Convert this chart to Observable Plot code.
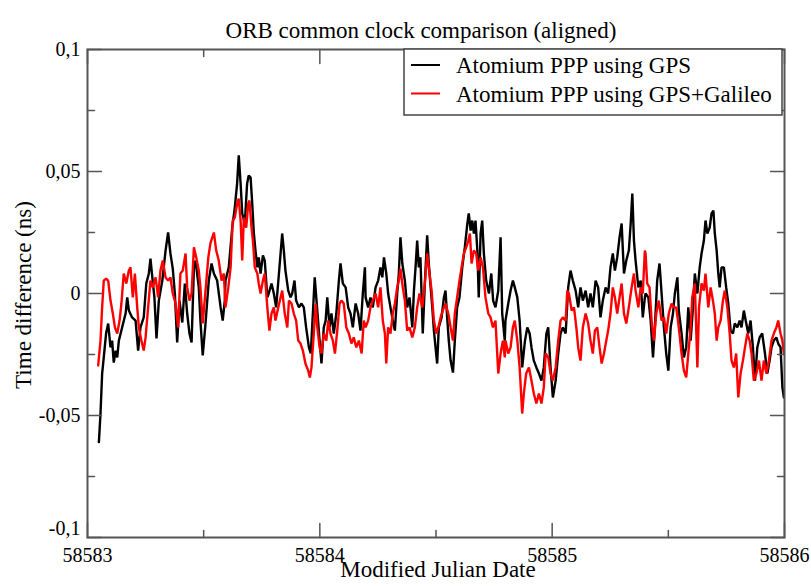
<!DOCTYPE html>
<html>
<head>
<meta charset="utf-8">
<script src="https://cdn.jsdelivr.net/npm/d3@7"></script>
<script src="https://cdn.jsdelivr.net/npm/@observablehq/plot@0.6"></script>
<style>
  html, body { margin: 0; padding: 0; background: white; }
</style>
</head>
<body>
<div id="chart"></div>
<script>
// ---- data (time as day offset from mjd0, values in ns) ----
const mjd0 = 58583;
const xTicks = [58583, 58584, 58585, 58586];
const xMinor = [58583.5, 58584.5, 58585.5];
const yTicks = [-0.1, -0.05, 0, 0.05, 0.1];
const yMinor = [-0.075, -0.025, 0.025, 0.075];
const seriesNames = ["Atomium PPP using GPS", "Atomium PPP using GPS+Galileo"];
const titleText = "ORB common clock comparison (aligned)";
const xLabel = "Modified Julian Date";
const yLabel = "Time difference (ns)";

const gps = [[0.049,-0.0609],[0.056,-0.0492],[0.063,-0.0328],[0.070,-0.0262],[0.080,-0.0164],[0.089,-0.0123],[0.099,-0.0221],[0.106,-0.0193],[0.113,-0.0283],[0.121,-0.0234],[0.128,-0.0262],[0.135,-0.0193],[0.149,-0.0139],[0.164,-0.0082],[0.171,-0.0016],[0.178,-0.0070],[0.192,-0.0098],[0.207,-0.0111],[0.218,-0.0234],[0.228,-0.0139],[0.242,-0.0098],[0.253,0.0041],[0.264,0.0082],[0.271,0.0143],[0.279,0.0066],[0.288,-0.0016],[0.297,-0.0184],[0.307,-0.0029],[0.322,0.0053],[0.336,0.0176],[0.347,0.0250],[0.357,0.0164],[0.367,0.0102],[0.376,0],[0.386,-0.0201],[0.396,-0.0029],[0.408,-0.0119],[0.419,0.0041],[0.429,-0.0082],[0.439,-0.0164],[0.448,-0.0201],[0.458,0.0107],[0.465,0.0135],[0.479,0.0025],[0.486,-0.0111],[0.496,-0.0254],[0.508,-0.0123],[0.522,0.0053],[0.534,0.0123],[0.544,0.0082],[0.558,0.0053],[0.573,-0.0057],[0.582,-0.0111],[0.591,-0.0029],[0.594,0.0053],[0.608,0.0107],[0.623,0.0270],[0.634,0.0352],[0.644,0.0451],[0.651,0.0566],[0.659,0.0451],[0.666,0.0328],[0.677,0.0287],[0.687,0.0451],[0.694,0.0484],[0.702,0.0475],[0.709,0.0369],[0.716,0.0246],[0.723,0.0176],[0.731,0.0107],[0.737,0.0148],[0.745,0.0082],[0.755,0.0156],[0.763,0.0135],[0.774,-0.0016],[0.780,0],[0.792,0.0041],[0.802,0],[0.812,-0.0057],[0.824,0.0082],[0.831,0.0164],[0.838,0.0246],[0.845,0.0176],[0.852,0.0094],[0.864,0.0012],[0.874,-0.0016],[0.881,0],[0.891,0.0053],[0.898,-0.0029],[0.910,-0.0057],[0.921,-0.0041],[0.931,-0.0057],[0.941,-0.0139],[0.953,-0.0221],[0.961,-0.0246],[0.970,-0.0082],[0.978,0.0066],[0.989,-0.0070],[0.999,-0.0193],[1.007,-0.0287],[1.017,-0.0139],[1.025,-0.0111],[1.032,-0.0016],[1.042,-0.0139],[1.050,-0.0082],[1.060,-0.0164],[1.071,-0.0082],[1.082,0.0053],[1.089,0.0123],[1.099,0.0041],[1.111,0.0025],[1.122,-0.0057],[1.132,-0.0082],[1.142,-0.0139],[1.154,-0.0041],[1.165,-0.0082],[1.175,-0.0152],[1.185,0],[1.194,0.0107],[1.197,-0.0016],[1.208,-0.0057],[1.218,-0.0016],[1.228,-0.0057],[1.240,0.0025],[1.251,0.0053],[1.261,0.0107],[1.269,0.0066],[1.276,0.0148],[1.286,0.0082],[1.294,0],[1.304,-0.0057],[1.314,-0.0111],[1.323,-0.0152],[1.333,0],[1.340,0.0082],[1.347,0.0230],[1.355,0.0123],[1.366,0.0053],[1.376,-0.0057],[1.386,-0.0016],[1.398,-0.0139],[1.405,0.0012],[1.412,0.0107],[1.419,0.0217],[1.426,0.0107],[1.433,0.0148],[1.443,-0.0164],[1.452,0.0041],[1.462,0.0238],[1.469,0.0123],[1.477,0.0025],[1.484,-0.0057],[1.491,-0.0152],[1.498,-0.0221],[1.505,-0.0287],[1.512,-0.0139],[1.524,-0.0098],[1.534,-0.0016],[1.541,0.0012],[1.548,-0.0098],[1.555,-0.0193],[1.563,-0.0275],[1.573,-0.0324],[1.581,-0.0193],[1.591,-0.0057],[1.601,-0.0016],[1.613,0.0107],[1.624,0.0189],[1.635,0.0287],[1.641,0.0328],[1.649,0.0258],[1.656,0.0299],[1.663,0.0246],[1.670,0.0299],[1.678,0.0176],[1.684,-0.0016],[1.692,0.0246],[1.699,0.0299],[1.706,0.0164],[1.716,0.0053],[1.728,0],[1.738,0.0082],[1.746,-0.0029],[1.756,-0.0057],[1.768,0.0012],[1.778,0.0230],[1.785,-0.0082],[1.796,-0.0193],[1.799,-0.0111],[1.811,-0.0041],[1.821,0.0012],[1.831,0.0053],[1.839,0.0025],[1.850,-0.0016],[1.860,-0.0111],[1.871,-0.0303],[1.883,-0.0193],[1.893,-0.0139],[1.903,-0.0164],[1.911,-0.0221],[1.921,-0.0275],[1.932,-0.0303],[1.943,-0.0328],[1.954,-0.0357],[1.964,-0.0303],[1.975,-0.0164],[1.983,-0.0139],[1.993,-0.0303],[2.003,-0.0426],[2.015,-0.0357],[2.026,-0.0246],[2.036,-0.0164],[2.046,-0.0139],[2.058,-0.0164],[2.069,0.0025],[2.079,0.0094],[2.089,0.0053],[2.101,0.0012],[2.112,-0.0057],[2.122,0.0025],[2.132,-0.0029],[2.144,0.0012],[2.155,-0.0057],[2.165,0],[2.175,-0.0057],[2.187,0.0053],[2.198,0.0025],[2.208,-0.0098],[2.218,-0.0029],[2.230,0.0025],[2.241,0],[2.251,0.0107],[2.261,0.0164],[2.270,0.0094],[2.280,0.0148],[2.290,0.0230],[2.299,0.0287],[2.309,0.0082],[2.319,0.0135],[2.330,0.0176],[2.338,0.0287],[2.345,0.0410],[2.352,0.0217],[2.359,0.0135],[2.371,0.0025],[2.381,0.0053],[2.390,-0.0098],[2.399,-0.0016],[2.402,0],[2.414,-0.0016],[2.424,-0.0111],[2.434,-0.0262],[2.442,-0.0139],[2.452,0.0053],[2.462,0.0123],[2.471,0],[2.481,-0.0139],[2.491,-0.0246],[2.500,-0.0316],[2.510,-0.0139],[2.520,-0.0082],[2.528,0],[2.539,0.0066],[2.545,-0.0070],[2.557,-0.0164],[2.567,-0.0262],[2.577,-0.0221],[2.586,-0.0057],[2.596,-0.0193],[2.606,-0.0057],[2.614,0.0082],[2.625,0],[2.635,0.0107],[2.643,0.0164],[2.653,0.0217],[2.660,0.0299],[2.668,0.0246],[2.678,0.0270],[2.686,0.0328],[2.694,0.0340],[2.700,0.0246],[2.708,0.0176],[2.715,0.0082],[2.721,0.0025],[2.729,0.0107],[2.739,0.0107],[2.749,0.0025],[2.758,-0.0041],[2.768,-0.0152],[2.778,-0.0164],[2.786,-0.0123],[2.797,-0.0139],[2.807,-0.0111],[2.815,-0.0139],[2.825,-0.0070],[2.833,-0.0111],[2.844,-0.0164],[2.854,-0.0111],[2.864,-0.0221],[2.873,-0.0357],[2.883,-0.0221],[2.893,-0.0180],[2.904,-0.0164],[2.916,-0.0246],[2.926,-0.0328],[2.936,-0.0275],[2.944,-0.0221],[2.954,-0.0193],[2.965,-0.0180],[2.973,-0.0205],[2.983,-0.0221],[2.991,-0.0385],[2.997,-0.0426]];

const gpsGalileo = [[0.046,-0.0295],[0.056,-0.0193],[0.063,-0.0057],[0.070,0.0053],[0.080,0.0061],[0.089,0.0053],[0.099,-0.0029],[0.109,-0.0082],[0.118,-0.0139],[0.128,-0.0164],[0.138,-0.0111],[0.146,-0.0041],[0.156,0.0082],[0.167,0.0041],[0.178,0.0094],[0.185,0.0107],[0.195,-0.0016],[0.204,0.0082],[0.214,-0.0057],[0.221,-0.0139],[0.232,-0.0193],[0.242,-0.0234],[0.250,-0.0180],[0.261,-0.0057],[0.271,0.0053],[0.281,0.0025],[0.293,0.0066],[0.304,-0.0016],[0.314,0.0094],[0.324,0.0135],[0.336,0.0066],[0.347,0.0053],[0.357,0.0066],[0.367,0],[0.379,-0.0041],[0.390,-0.0139],[0.400,0.0082],[0.410,0.0094],[0.422,0.0164],[0.429,0.0025],[0.439,-0.0029],[0.448,0],[0.458,0.0189],[0.468,0.0148],[0.479,0.0094],[0.486,0.0025],[0.496,-0.0123],[0.508,0.0012],[0.520,0.0148],[0.529,0.0205],[0.544,0.0250],[0.554,0.0176],[0.565,0.0135],[0.577,0.0053],[0.587,0.0082],[0.594,-0.0057],[0.606,0.0025],[0.616,0.0107],[0.625,0.0299],[0.634,0.0311],[0.644,0.0369],[0.651,0.0389],[0.659,0.0299],[0.666,0.0135],[0.673,0.0311],[0.683,0.0270],[0.692,0.0369],[0.697,0.0381],[0.706,0.0270],[0.712,0.0217],[0.720,0.0107],[0.731,0.0082],[0.737,0.0041],[0.745,0],[0.755,0.0053],[0.763,0.0082],[0.774,-0.0057],[0.783,-0.0152],[0.792,-0.0082],[0.802,-0.0057],[0.809,-0.0111],[0.821,-0.0057],[0.831,-0.0016],[0.838,0.0012],[0.849,-0.0082],[0.860,-0.0139],[0.867,-0.0029],[0.878,-0.0041],[0.888,-0.0082],[0.898,-0.0111],[0.907,-0.0193],[0.917,-0.0205],[0.927,-0.0234],[0.938,-0.0287],[0.950,-0.0316],[0.957,-0.0344],[0.964,-0.0303],[0.974,-0.0164],[0.982,-0.0041],[0.989,-0.0139],[0.999,-0.0221],[1.007,-0.0246],[1.017,-0.0164],[1.028,-0.0193],[1.036,-0.0111],[1.046,-0.0164],[1.056,-0.0193],[1.065,-0.0246],[1.075,-0.0152],[1.085,-0.0041],[1.093,-0.0029],[1.103,-0.0041],[1.114,-0.0139],[1.125,-0.0164],[1.136,-0.0205],[1.146,-0.0180],[1.157,-0.0221],[1.168,-0.0193],[1.180,-0.0246],[1.189,-0.0111],[1.197,-0.0139],[1.208,-0.0111],[1.218,-0.0057],[1.228,-0.0029],[1.240,0],[1.251,-0.0057],[1.261,0.0025],[1.271,-0.0111],[1.280,-0.0164],[1.286,-0.0287],[1.294,-0.0139],[1.304,-0.0164],[1.314,-0.0082],[1.323,-0.0041],[1.333,0.0025],[1.340,0.0053],[1.347,0.0102],[1.357,0.0025],[1.366,-0.0029],[1.376,-0.0152],[1.386,-0.0139],[1.398,-0.0180],[1.409,-0.0139],[1.419,-0.0057],[1.429,0],[1.441,-0.0057],[1.452,0.0041],[1.462,0.0164],[1.469,0.0107],[1.481,0.0012],[1.491,-0.0111],[1.501,-0.0164],[1.510,-0.0139],[1.520,-0.0098],[1.529,-0.0070],[1.541,-0.0041],[1.553,-0.0082],[1.563,-0.0139],[1.573,-0.0193],[1.581,-0.0082],[1.591,-0.0016],[1.601,0.0053],[1.610,0.0107],[1.620,0.0164],[1.630,0.0189],[1.639,0.0217],[1.646,0.0246],[1.653,0.0123],[1.663,0.0176],[1.673,0.0164],[1.682,0.0094],[1.692,0.0148],[1.702,0.0107],[1.713,-0.0016],[1.725,-0.0082],[1.735,-0.0098],[1.745,-0.0139],[1.756,-0.0111],[1.768,-0.0328],[1.778,-0.0246],[1.788,-0.0193],[1.796,-0.0262],[1.799,-0.0193],[1.811,-0.0246],[1.821,-0.0221],[1.831,-0.0139],[1.839,-0.0111],[1.850,-0.0193],[1.860,-0.0303],[1.871,-0.0492],[1.878,-0.0410],[1.888,-0.0328],[1.900,-0.0303],[1.911,-0.0357],[1.921,-0.0410],[1.932,-0.0451],[1.943,-0.0410],[1.954,-0.0451],[1.964,-0.0385],[1.972,-0.0246],[1.983,-0.0262],[1.993,-0.0328],[2.003,-0.0357],[2.015,-0.0303],[2.026,-0.0193],[2.036,-0.0111],[2.046,-0.0098],[2.058,-0.0111],[2.065,0.0012],[2.072,0],[2.084,-0.0070],[2.094,-0.0057],[2.104,-0.0139],[2.112,-0.0221],[2.122,-0.0275],[2.132,-0.0139],[2.144,-0.0082],[2.155,-0.0123],[2.165,-0.0193],[2.175,-0.0246],[2.184,-0.0152],[2.194,-0.0139],[2.204,-0.0221],[2.213,-0.0287],[2.223,-0.0246],[2.233,-0.0193],[2.241,-0.0152],[2.251,-0.0082],[2.261,0.0025],[2.270,-0.0016],[2.280,-0.0082],[2.290,-0.0016],[2.299,0.0041],[2.309,-0.0082],[2.319,-0.0123],[2.330,-0.0057],[2.342,0.0025],[2.352,0.0082],[2.359,0.0012],[2.371,-0.0057],[2.381,0.0025],[2.390,0],[2.399,0.0176],[2.402,0.0164],[2.409,0.0041],[2.419,0.0025],[2.428,-0.0111],[2.438,-0.0193],[2.448,-0.0082],[2.459,-0.0029],[2.471,-0.0111],[2.481,-0.0098],[2.491,-0.0164],[2.502,-0.0082],[2.514,-0.0041],[2.524,-0.0057],[2.534,-0.0057],[2.545,-0.0139],[2.557,-0.0246],[2.567,-0.0316],[2.577,-0.0344],[2.586,-0.0246],[2.596,-0.0139],[2.603,-0.0016],[2.614,0.0041],[2.625,-0.0303],[2.632,-0.0057],[2.643,0.0041],[2.653,0.0012],[2.660,0.0082],[2.672,-0.0057],[2.682,0.0025],[2.692,-0.0029],[2.700,-0.0082],[2.708,-0.0193],[2.715,-0.0139],[2.725,-0.0111],[2.735,-0.0029],[2.743,0.0012],[2.754,-0.0057],[2.764,-0.0164],[2.772,-0.0275],[2.782,-0.0303],[2.792,-0.0246],[2.801,-0.0426],[2.811,-0.0328],[2.821,-0.0275],[2.830,-0.0221],[2.840,-0.0164],[2.850,-0.0193],[2.858,-0.0246],[2.868,-0.0357],[2.879,-0.0328],[2.890,-0.0275],[2.901,-0.0357],[2.911,-0.0275],[2.922,-0.0328],[2.933,-0.0275],[2.944,-0.0193],[2.954,-0.0164],[2.965,-0.0139],[2.973,-0.0111],[2.983,-0.0164],[2.991,-0.0193],[2.997,-0.0246]];

// ---- build tables ----
const toRows = (arr) => arr.map(([dt, v]) => ({t: mjd0 + dt, v}));
const gpsRows = toRows(gps);
const galRows = toRows(gpsGalileo);

const FONT = "Liberation Serif";
const AX = "#555";
const fmtY = d => String(d).replace(".", ",");
const xMin = xTicks[0], xMax = xTicks[xTicks.length - 1];
const yMin = yTicks[0], yMax = yTicks[yTicks.length - 1];
const yLabelsUpper = yTicks.filter(d => d !== yMin);
const yLabelsLower = yTicks.filter(d => d === yMin);

// custom tick shape for Plot.vector (a simple line)
const tickShape = {draw(context, l) { context.moveTo(0, 0); context.lineTo(0, -l); }};
const tickMark = (data, opts) => Plot.vector(data, {anchor: "start", shape: tickShape, stroke: AX, strokeWidth: 1.5, ...opts});

function legend() {
  return (index, scales, values, dimensions) => {
    const g = d3.create("svg:g").attr("font-family", FONT).attr("font-size", 23).attr("text-anchor", "start");
    g.append("rect").attr("x", 404).attr("y", 49).attr("width", 378).attr("height", 66)
      .attr("fill", "white").attr("stroke", "#444").attr("stroke-width", 1.5);
    const colors = ["black", "red"];
    seriesNames.forEach((name, i) => {
      const y = 65 + i * 28.5;
      g.append("line").attr("x1", 411).attr("x2", 440).attr("y1", y).attr("y2", y)
        .attr("stroke", colors[i]).attr("stroke-width", 2);
      g.append("text").attr("x", 456).attr("y", y + 8).attr("fill", "black")
        .attr("text-anchor", "start").text(name);
    });
    return g.node();
  };
}

function yTitle() {
  return (index, scales, values, dimensions) => {
    const cy = (dimensions.marginTop + dimensions.height - dimensions.marginBottom) / 2;
    const g = d3.create("svg:g");
    g.append("text")
      .attr("transform", `translate(31,${cy + 2}) rotate(-90)`)
      .attr("text-anchor", "middle")
      .attr("font-family", FONT).attr("font-size", 23).attr("fill", "black")
      .text(yLabel);
    return g.node();
  };
}

const chart = Plot.plot({
  width: 811,
  height: 586,
  marginLeft: 87,
  marginRight: 27,
  marginTop: 49,
  marginBottom: 49,
  style: {fontFamily: FONT, fontSize: "20px", background: "white", color: "black"},
  x: {domain: [xMin, xMax], axis: null},
  y: {domain: [yMin, yMax], axis: null},
  marks: [
    Plot.line(gpsRows, {x: "t", y: "v", stroke: "black", strokeWidth: 2.4, strokeLinejoin: "miter"}),
    Plot.line(galRows, {x: "t", y: "v", stroke: "red", strokeWidth: 2.4, strokeLinejoin: "miter"}),
    // inward ticks: bottom, top, left, right
    tickMark(xTicks, {x: d => d, y: yMin, length: 14, rotate: 0}),
    tickMark(xMinor, {x: d => d, y: yMin, length: 7, rotate: 0}),
    tickMark(xTicks, {x: d => d, y: yMax, length: 14, rotate: 180}),
    tickMark(xMinor, {x: d => d, y: yMax, length: 7, rotate: 180}),
    tickMark(yTicks, {x: xMin, y: d => d, length: 14, rotate: 90}),
    tickMark(yMinor, {x: xMin, y: d => d, length: 7, rotate: 90}),
    tickMark(yTicks, {x: xMax, y: d => d, length: 14, rotate: -90}),
    tickMark(yMinor, {x: xMax, y: d => d, length: 7, rotate: -90}),
    Plot.frame({stroke: AX, strokeWidth: 2}),
    // tick labels
    Plot.text(yLabelsUpper, {x: xMin, y: d => d, text: fmtY, textAnchor: "end", dx: -7, fontSize: 20, fill: "black"}),
    Plot.text(yLabelsLower, {x: xMin, y: d => d, text: fmtY, textAnchor: "end", dx: -7, dy: -9, fontSize: 20, fill: "black"}),
    Plot.text(xTicks, {x: d => d, y: yMin, text: d => String(d), dy: 18, fontSize: 20, fill: "black"}),
    // titles
    Plot.text([titleText], {frameAnchor: "top", dy: -28, dx: -15, fontSize: 23, fill: "black"}),
    Plot.text([xLabel], {frameAnchor: "bottom", dy: 39, dx: 2, fontSize: 23, fill: "black"}),
    yTitle(),
    legend()
  ]
});

document.getElementById("chart").appendChild(chart);
</script>
</body>
</html>
